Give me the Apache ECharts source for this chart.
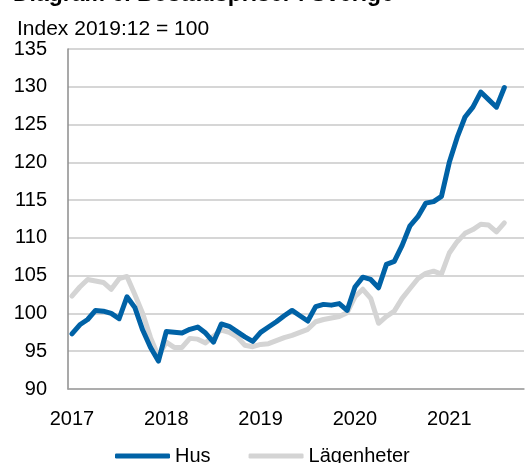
<!DOCTYPE html>
<html>
<head>
<meta charset="utf-8">
<script src="https://cdn.jsdelivr.net/npm/echarts@6/dist/echarts.min.js"></script>
<style>
  html, body { margin: 0; padding: 0; background: #fff; }
  #chart { width: 525px; height: 463px; }
</style>
</head>
<body>
<div id="chart"></div>
<script>
// monthly index, 2019:12 = 100, Jan 2017 .. Aug 2021
const years = ['2017', '2018', '2019', '2020', '2021'];
const hus = [
  97.3, 98.5, 99.2, 100.4, 100.3, 100.0, 99.3, 102.2, 100.8, 97.8, 95.5, 93.7,
  97.6, 97.5, 97.4, 97.9, 98.2, 97.4, 96.2, 98.6, 98.3, 97.6, 96.9, 96.3,
  97.5, 98.2, 98.9, 99.7, 100.4, 99.7, 99.0, 100.9, 101.2, 101.1, 101.3, 100.4,
  103.5, 104.8, 104.5, 103.4, 106.5, 106.9, 109.0, 111.6, 112.8, 114.6, 114.8, 115.5,
  120.0, 123.3, 126.0, 127.3, 129.3, 128.3, 127.3, 129.9
];
const lagenheter = [
  102.3, 103.5, 104.5, 104.3, 104.1, 103.2, 104.6, 104.9, 102.5, 100.0, 96.8, 94.3,
  96.2, 95.5, 95.5, 96.7, 96.6, 96.1, 97.0, 97.8, 97.5, 96.9, 95.8, 95.6,
  95.9, 96.0, 96.4, 96.8, 97.1, 97.5, 97.9, 98.9, 99.2, 99.4, 99.6, 100.1,
  102.2, 103.2, 102.0, 98.7, 99.6, 100.3, 102.0, 103.3, 104.6, 105.3, 105.6, 105.2,
  108.0, 109.5, 110.6, 111.1, 111.8, 111.7, 110.8, 112.0
];

// axis runs Jan 2017 .. Oct 2021 (two empty months at the right)
const months = [];
years.forEach(function (y) {
  for (let m = 1; m <= 12; m++) {
    if (y === '2021' && m > 10) break;
    months.push(y + '-' + (m < 10 ? '0' + m : m));
  }
});

const FONT = '"Liberation Sans", Arial, sans-serif';
const chart = echarts.init(document.getElementById('chart'));

const option = {
  backgroundColor: '#fff',
  animation: false,
  textStyle: { fontFamily: FONT },
  title: [
    {
      text: 'Diagram 6. Bostadspriser i Sverige',
      left: 8,
      top: -22,
      textStyle: { fontSize: 23, fontWeight: 'bold', color: '#000', fontFamily: FONT }
    },
    {
      text: 'Index 2019:12 = 100',
      left: 12,
      top: 14,
      textStyle: { fontSize: 21, fontWeight: 'normal', color: '#000', fontFamily: FONT }
    }
  ],
  grid: {
    left: 68,
    right: 1,
    top: 49,
    bottom: 74,
    containLabel: false,
    outerBoundsMode: 'none'
  },
  legend: {
    data: ['Hus', 'Lägenheter'],
    left: 110,
    top: 441,
    icon: 'roundRect',
    itemWidth: 55,
    itemHeight: 5,
    itemGap: 38,
    textStyle: { fontSize: 20, color: '#000', fontFamily: FONT }
  },
  xAxis: {
    type: 'category',
    data: months,
    boundaryGap: true,
    axisLine: { show: true, lineStyle: { color: '#a0a0a0', width: 1.5 } },
    axisTick: { show: false },
    axisLabel: {
      interval: function (index) { return index % 12 === 0; },
      formatter: function (v) { return v.slice(0, 4); },
      fontSize: 20,
      color: '#000',
      margin: 20,
      fontFamily: FONT
    },
    splitLine: { show: false }
  },
  yAxis: {
    type: 'value',
    min: 90,
    max: 135,
    interval: 5,
    axisLine: { show: true, lineStyle: { color: '#8c8c8c', width: 1.5 } },
    axisTick: { show: false },
    axisLabel: { fontSize: 20, color: '#000', margin: 21, fontFamily: FONT },
    splitLine: { show: true, lineStyle: { color: '#c8c8c8', width: 1.5 } }
  },
  series: [
    {
      name: 'Lägenheter',
      type: 'line',
      data: lagenheter,
      showSymbol: false,
      symbol: 'none',
      z: 2,
      lineStyle: { color: '#d4d4d4', width: 5, cap: 'round', join: 'round' },
      itemStyle: { color: '#d4d4d4' }
    },
    {
      name: 'Hus',
      type: 'line',
      data: hus,
      showSymbol: false,
      symbol: 'none',
      z: 3,
      lineStyle: { color: '#0062a6', width: 5, cap: 'round', join: 'round' },
      itemStyle: { color: '#0062a6' }
    }
  ]
};

chart.setOption(option);
</script>
</body>
</html>
